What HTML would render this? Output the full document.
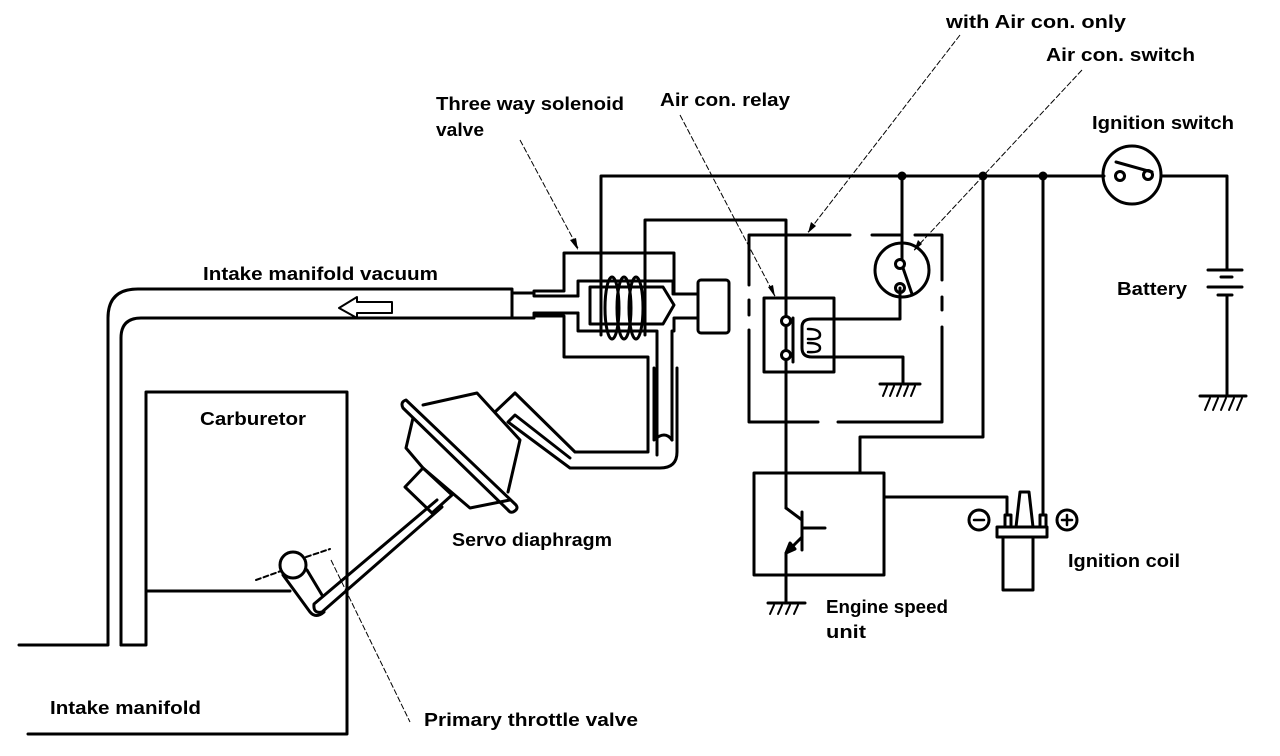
<!DOCTYPE html>
<html><head><meta charset="utf-8"><style>
html,body{margin:0;padding:0;background:#fff;}
svg{display:block;}
text{font-family:"Liberation Sans",sans-serif;font-size:18px;font-weight:bold;fill:#000;}
</style></head><body>
<svg width="1280" height="756" viewBox="0 0 1280 756" xmlns="http://www.w3.org/2000/svg">
<g fill="none" stroke="#000" stroke-width="3" stroke-linejoin="round" stroke-linecap="round">
<!-- vacuum pipe -->
<path d="M19 645 H108 V318 Q108 289 138 289 H508"/>
<path d="M121 645 V338 Q121 318 141 318 H508"/>
<path d="M121 645 H146 V392 H347 V734 H28"/>
<path d="M146 591 H290"/>
<!-- arrow -->
<path d="M392 302 H357 V297 L339 308 L357 318 V313 H392 Z" stroke-width="2"/>
<!-- connector -->
<path d="M508 289 H512 V318 H508"/>
<path d="M512 293 H534 V296 H578 M512 318 H534 V313 H578"/>
<!-- solenoid body -->
<path d="M534 291 H564 V253 H674 V294 H698"/>
<path d="M534 316 H564 V357 H648 V450"/>
<path d="M578 296 V281 H673 V294 M578 313 V331 H657 V455"/>
<path d="M674 318 H698 M674 318 V331 H672 V440"/>
<rect x="698" y="280" width="31" height="53" rx="3"/>
<path d="M590 287 H663 L674 305 L663 324 H590 Z"/>
<ellipse cx="612" cy="308" rx="7" ry="31"/>
<ellipse cx="624" cy="308" rx="7" ry="31"/>
<ellipse cx="636" cy="308" rx="7" ry="31"/>
<path d="M601 253 V335 M645 281 V335"/>
<path d="M677 368 V452 Q677 468 660 468 H570 L508 422 L515 415 L570 458"/>
<path d="M648 450 V452 H575 L515 393 L495 412"/>
<path d="M654 368 V440 Q665 430 672 440"/>
<!-- servo -->
<path d="M423 405 L477 393 L520 440 L508 492"/>
<path d="M413 418 L406 448 L423 468 L470 508 L510 500"/>
<path d="M405 487 L423 468 L452 495 L432 513 Z"/>
<path d="M406 400 L516 505 Q519 509 513 512 Q510 513 508 510 L403 408 Q400 402 406 400 Z"/>
<path d="M437 500 L314 604 Q313 614 322 612 L442 507"/>
<!-- throttle -->
<circle cx="293" cy="565" r="13"/>
<path d="M283 575 L310 612 Q316 619 324 612 M307 570 L322 595"/>
<path d="M256 580 L281 571 M306 557 L330 549" stroke-width="2" stroke-dasharray="5 3"/>
<!-- wires -->
<path d="M601 253 V176 H1104"/>
<path d="M645 281 V220 H786 V508"/>
<path d="M1161 176 H1227 V270"/>
<path d="M1208 270 H1242 M1221 277 H1232 M1208 287 H1242 M1218 295 H1232"/>
<path d="M1227 295 V396 M1200 396 H1246"/>
<path d="M1205 410 L1210 398 M1213 410 L1218 398 M1221 410 L1226 398 M1229 410 L1234 398 M1237 410 L1242 398" stroke-width="2"/>
<circle cx="1132" cy="175" r="29"/>
<circle cx="1120" cy="176" r="4.5"/>
<circle cx="1148" cy="175" r="4.5"/>
<path d="M1116 162 L1152 172"/>
<!-- dashed box -->
<path d="M749 235 H850 M872 235 H900 M915 235 H942 V280 M942 297 V310 M942 327 V422 H838 M818 422 H749 V330 M749 315 V300 M749 285 V235"/>
<!-- relay -->
<rect x="764" y="298" width="70" height="74"/>
<circle cx="786" cy="321" r="4.5" fill="#fff"/>
<circle cx="786" cy="355" r="4.5" fill="#fff"/>
<path d="M793 318 V362"/>
<path d="M834 319 H812 Q802 319 802 327 V348 Q802 357 812 357 H834"/>
<path d="M808 329 Q820 329 820 335 Q820 340 808 339 M808 343 Q820 343 820 348 Q820 353 808 352" stroke-width="2.5"/>
<path d="M834 319 H900 V288"/>
<path d="M834 357 H903 V384 M880 384 H920"/>
<path d="M883 396 L887 386 M890 396 L894 386 M897 396 L901 386 M904 396 L908 386 M911 396 L915 386" stroke-width="2"/>
<circle cx="902" cy="270" r="27"/>
<path d="M902 176 V259"/>
<circle cx="900" cy="264" r="4.5"/>
<circle cx="900" cy="288" r="4.5"/>
<path d="M903 268 L912 294"/>
<!-- right wires -->
<path d="M983 176 V437 H860 V473"/>
<path d="M1043 176 V515"/>
<!-- engine speed unit -->
<rect x="754" y="473" width="130" height="102"/>
<path d="M786 508 L802 520 M802 512 V550 M802 528 H825 M802 537 L786 553 V603"/>
<path d="M786 553 L790 543 L795 549 Z" fill="#000"/>
<path d="M768 603 H805"/>
<path d="M770 614 L774 605 M778 614 L782 605 M786 614 L790 605 M794 614 L798 605" stroke-width="2"/>
<!-- coil -->
<path d="M884 497 H1007 V515"/>
<path d="M1003 537 V590 H1033 V537"/>
<rect x="997" y="527" width="50" height="10"/>
<path d="M1016 527 L1020 492 H1029 L1033 527"/>
<rect x="1005" y="515" width="6" height="12"/>
<rect x="1040" y="515" width="6" height="12"/>
<circle cx="979" cy="520" r="10"/>
<path d="M974 520 H984" stroke-width="2.5"/>
<circle cx="1067" cy="520" r="10"/>
<path d="M1062 520 H1072 M1067 515 V525" stroke-width="2.5"/>
</g>
<!-- junction dots -->
<g fill="#000">
<circle cx="902" cy="176" r="4.5"/><circle cx="983" cy="176" r="4.5"/><circle cx="1043" cy="176" r="4.5"/>
</g>
<!-- leaders -->
<g fill="none" stroke="#000" stroke-width="1" stroke-dasharray="6 2">
<path d="M520 140 L578 248"/>
<path d="M680 115 L775 296"/>
<path d="M960 35 L808 232"/>
<path d="M1082 70 L914 250"/>
<path d="M331 560 L410 722"/>
</g>
<g fill="#000">
<path d="M578 250 L570 240 L576 238 Z"/>
<path d="M775 297 L768 287 L773 285 Z"/>
<path d="M808 233 L811 222 L816 226 Z"/>
<path d="M914 251 L918 240 L922 244 Z"/>
</g>
<text x="946" y="28" textLength="180" lengthAdjust="spacingAndGlyphs">with Air con. only</text>
<text x="1046" y="61" textLength="149" lengthAdjust="spacingAndGlyphs">Air con. switch</text>
<text x="436" y="110" textLength="188" lengthAdjust="spacingAndGlyphs">Three way solenoid</text>
<text x="436" y="136" textLength="48" lengthAdjust="spacingAndGlyphs">valve</text>
<text x="660" y="106" textLength="130" lengthAdjust="spacingAndGlyphs">Air con. relay</text>
<text x="1092" y="129" textLength="142" lengthAdjust="spacingAndGlyphs">Ignition switch</text>
<text x="203" y="280" textLength="235" lengthAdjust="spacingAndGlyphs">Intake manifold vacuum</text>
<text x="1117" y="295" textLength="70" lengthAdjust="spacingAndGlyphs">Battery</text>
<text x="200" y="425" textLength="106" lengthAdjust="spacingAndGlyphs">Carburetor</text>
<text x="452" y="546" textLength="160" lengthAdjust="spacingAndGlyphs">Servo diaphragm</text>
<text x="1068" y="567" textLength="112" lengthAdjust="spacingAndGlyphs">Ignition coil</text>
<text x="826" y="613" textLength="122" lengthAdjust="spacingAndGlyphs">Engine speed</text>
<text x="826" y="638" textLength="40" lengthAdjust="spacingAndGlyphs">unit</text>
<text x="50" y="714" textLength="151" lengthAdjust="spacingAndGlyphs">Intake manifold</text>
<text x="424" y="726" textLength="214" lengthAdjust="spacingAndGlyphs">Primary throttle valve</text>
</svg>
</body></html>
